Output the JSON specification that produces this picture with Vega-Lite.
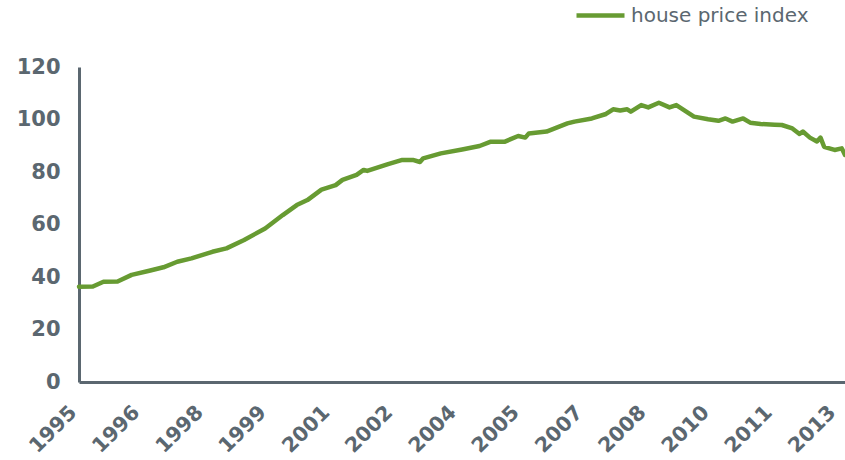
{
  "$schema": "https://vega.github.io/schema/vega-lite/v6.json",
  "width": 766,
  "height": 315,
  "autosize": {"type": "none"},
  "padding": {"left": 79, "top": 67, "right": 0, "bottom": 78},
  "background": "white",
  "config": {
    "view": {"stroke": null},
    "font": "DejaVu Sans"
  },
  "data": {
    "values": [
      {"date": "1995-01-01", "index": 36.3},
      {"date": "1995-05-01", "index": 36.4},
      {"date": "1995-08-01", "index": 38.2},
      {"date": "1995-12-01", "index": 38.3},
      {"date": "1996-04-01", "index": 40.8},
      {"date": "1996-09-01", "index": 42.4},
      {"date": "1997-01-01", "index": 43.7},
      {"date": "1997-05-01", "index": 45.8},
      {"date": "1997-09-01", "index": 47.1},
      {"date": "1998-03-01", "index": 49.6},
      {"date": "1998-07-01", "index": 50.9},
      {"date": "1998-12-01", "index": 54.1},
      {"date": "1999-06-01", "index": 58.5},
      {"date": "1999-11-01", "index": 63.6},
      {"date": "2000-03-01", "index": 67.4},
      {"date": "2000-06-01", "index": 69.3},
      {"date": "2000-10-01", "index": 73.3},
      {"date": "2001-02-01", "index": 75.0},
      {"date": "2001-04-01", "index": 77.0},
      {"date": "2001-08-01", "index": 78.9},
      {"date": "2001-10-01", "index": 80.8},
      {"date": "2001-11-01", "index": 80.4},
      {"date": "2002-05-01", "index": 83.0},
      {"date": "2002-09-01", "index": 84.6},
      {"date": "2002-12-01", "index": 84.6},
      {"date": "2003-02-01", "index": 83.8},
      {"date": "2003-03-01", "index": 85.2},
      {"date": "2003-08-01", "index": 87.1},
      {"date": "2004-02-01", "index": 88.6},
      {"date": "2004-07-01", "index": 89.9},
      {"date": "2004-10-01", "index": 91.5},
      {"date": "2005-02-01", "index": 91.5},
      {"date": "2005-06-01", "index": 93.7},
      {"date": "2005-08-01", "index": 93.1},
      {"date": "2005-09-01", "index": 94.7},
      {"date": "2006-02-01", "index": 95.4},
      {"date": "2006-08-01", "index": 98.5},
      {"date": "2006-10-01", "index": 99.2},
      {"date": "2007-03-01", "index": 100.4},
      {"date": "2007-07-01", "index": 102.1},
      {"date": "2007-09-01", "index": 103.9},
      {"date": "2007-11-01", "index": 103.4},
      {"date": "2008-01-01", "index": 103.9},
      {"date": "2008-02-01", "index": 103.0},
      {"date": "2008-05-01", "index": 105.5},
      {"date": "2008-07-01", "index": 104.6},
      {"date": "2008-10-01", "index": 106.4},
      {"date": "2009-01-01", "index": 104.6},
      {"date": "2009-03-01", "index": 105.5},
      {"date": "2009-08-01", "index": 101.1},
      {"date": "2009-12-01", "index": 100.1},
      {"date": "2010-03-01", "index": 99.5},
      {"date": "2010-05-01", "index": 100.4},
      {"date": "2010-07-01", "index": 99.2},
      {"date": "2010-10-01", "index": 100.4},
      {"date": "2010-12-01", "index": 98.8},
      {"date": "2011-03-01", "index": 98.3},
      {"date": "2011-07-01", "index": 98.0},
      {"date": "2011-09-01", "index": 97.9},
      {"date": "2011-12-01", "index": 96.6},
      {"date": "2012-02-01", "index": 94.5},
      {"date": "2012-03-01", "index": 95.4},
      {"date": "2012-05-01", "index": 93.1},
      {"date": "2012-07-01", "index": 91.6},
      {"date": "2012-08-01", "index": 93.1},
      {"date": "2012-09-01", "index": 89.6},
      {"date": "2012-12-01", "index": 88.4},
      {"date": "2013-02-01", "index": 89.0},
      {"date": "2013-03-01", "index": 86.5}
    ]
  },
  "mark": {"type": "line", "strokeWidth": 4.5, "strokeJoin": "round", "strokeCap": "round"},
  "encoding": {
    "x": {
      "field": "date",
      "type": "temporal",
      "scale": {"domain": [{"year": 1995, "month": 1, "date": 1}, {"year": 2013, "month": 3, "date": 1}], "nice": false},
      "axis": {
        "title": null,
        "values": [
          {"year": 1995, "month": 1, "date": 1},
          {"year": 1996, "month": 7, "date": 1},
          {"year": 1998, "month": 1, "date": 1},
          {"year": 1999, "month": 7, "date": 1},
          {"year": 2001, "month": 1, "date": 1},
          {"year": 2002, "month": 7, "date": 1},
          {"year": 2004, "month": 1, "date": 1},
          {"year": 2005, "month": 7, "date": 1},
          {"year": 2007, "month": 1, "date": 1},
          {"year": 2008, "month": 7, "date": 1},
          {"year": 2010, "month": 1, "date": 1},
          {"year": 2011, "month": 7, "date": 1},
          {"year": 2013, "month": 1, "date": 1}
        ],
        "format": "%Y",
        "labelAngle": -45,
        "labelAlign": "right",
        "labelBaseline": "middle",
        "labelPadding": 27,
        "labelOffset": -6,
        "labelFont": "DejaVu Sans",
        "labelFontWeight": "bold",
        "labelFontSize": 20.5,
        "labelColor": "#5b6770",
        "labelOverlap": false,
        "labelFlush": false,
        "ticks": false,
        "grid": false,
        "domainColor": "#5b6770",
        "domainWidth": 3
      }
    },
    "y": {
      "field": "index",
      "type": "quantitative",
      "scale": {"domain": [0, 120], "nice": false, "zero": true},
      "axis": {
        "title": null,
        "values": [0, 20, 40, 60, 80, 100, 120],
        "labelFont": "DejaVu Sans",
        "labelFontWeight": "bold",
        "labelFontSize": 21,
        "labelColor": "#5b6770",
        "labelPadding": 19,
        "ticks": false,
        "grid": false,
        "domainColor": "#5b6770",
        "domainWidth": 3
      }
    },
    "color": {
      "datum": "house price index",
      "type": "nominal",
      "scale": {"range": ["#679b32"]},
      "legend": {
        "title": null,
        "orient": "none",
        "legendX": 495,
        "legendY": -78,
        "symbolType": "stroke",
        "symbolSize": 2304,
        "symbolStrokeWidth": 4.5,
        "labelFont": "DejaVu Sans",
        "labelFontSize": 20,
        "labelLimit": 400,
        "labelColor": "#5b6770",
        "labelOffset": 4
      }
    }
  }
}
